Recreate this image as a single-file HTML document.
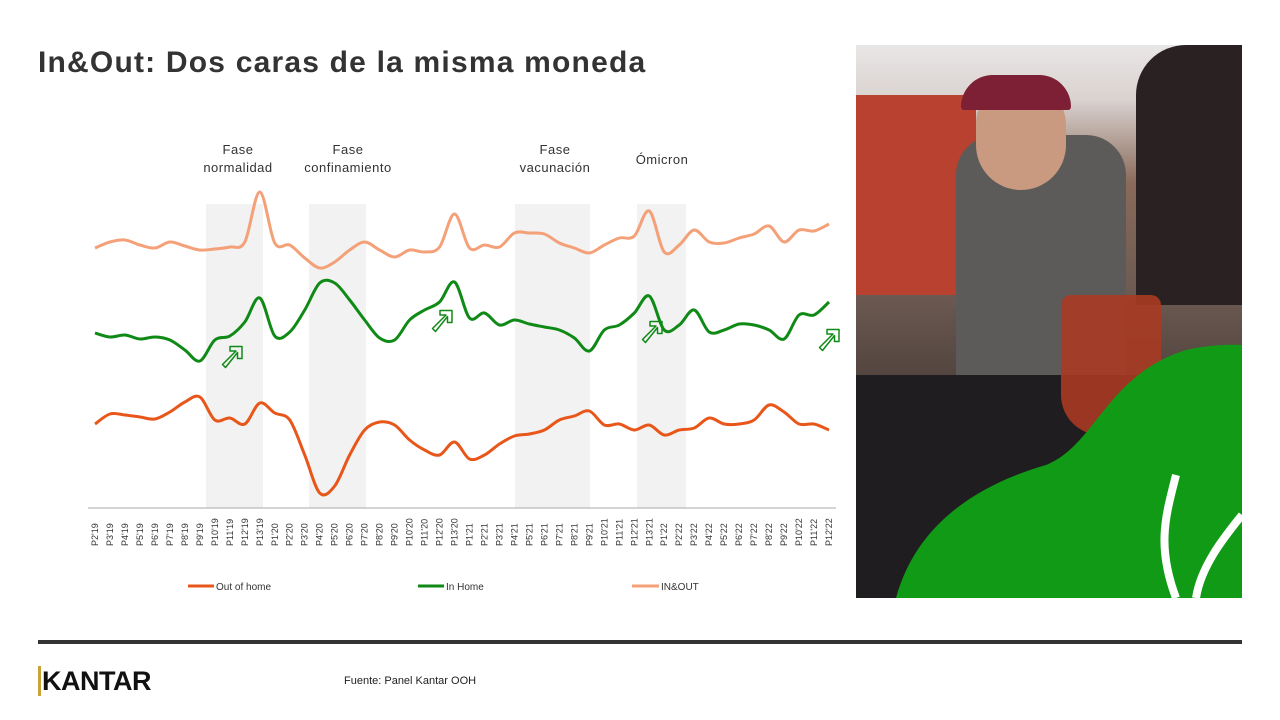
<!DOCTYPE html>
<html><head><meta charset="utf-8">
<style>
body{margin:0;width:1280px;height:720px;background:#fff;overflow:hidden;position:relative;font-family:"Liberation Sans",sans-serif;}
.title{position:absolute;left:38px;top:46px;font-size:30px;font-weight:bold;color:#333;letter-spacing:1.2px}
.photo{position:absolute;left:856px;top:45px;width:386px;height:553px;overflow:hidden;
background:linear-gradient(180deg,#e9e6e6 0%,#d9d2cf 10%,#8a6a5a 25%,#6c5a52 45%,#4a3d38 65%,#2e2a2a 100%);}
.rule{position:absolute;left:38px;top:640px;width:1204px;height:4px;background:#333}
.kantar{position:absolute;left:38px;top:666px;font-size:27px;font-weight:bold;color:#111;letter-spacing:-0.5px}
.src{position:absolute;left:344px;top:675px;font-size:11px;color:#222}
</style></head><body>
<div class="title">In&amp;Out: Dos caras de la misma moneda</div>
<svg width="850" height="620" style="position:absolute;left:0;top:0" id="c">
<g fill="#f2f2f2">
<rect x="206" y="204" width="57" height="304"/>
<rect x="309" y="204" width="57" height="304"/>
<rect x="515" y="204" width="75" height="304"/>
<rect x="637" y="204" width="49" height="304"/>
</g>
<line x1="88" y1="508" x2="836" y2="508" stroke="#aaa" stroke-width="1"/>
<g font-family="Liberation Sans,sans-serif" font-size="13" fill="#333" text-anchor="middle" letter-spacing="0.5">
<text x="238" y="154">Fase</text><text x="238" y="172">normalidad</text>
<text x="348" y="154">Fase</text><text x="348" y="172">confinamiento</text>
<text x="555" y="154">Fase</text><text x="555" y="172">vacunación</text>
<text x="662" y="164">Ómicron</text>
</g>
<g id="ticks" font-family="Liberation Sans,sans-serif" font-size="9" fill="#333"></g>
<path id="p1" fill="none" stroke="#F4A078" stroke-width="3"/>
<path id="p2" fill="none" stroke="#108A16" stroke-width="3"/>
<path id="p3" fill="none" stroke="#E8561A" stroke-width="3"/>
<g fill="none" stroke="#108A16" stroke-width="1" stroke-linejoin="round">
<path id="ar" d=""/>
</g>
<g font-family="Liberation Sans,sans-serif" font-size="10" fill="#333">
<line x1="188" y1="586" x2="214" y2="586" stroke="#E8561A" stroke-width="3"/><text x="216" y="590">Out of home</text>
<line x1="418" y1="586" x2="444" y2="586" stroke="#108A16" stroke-width="3"/><text x="446" y="590">In Home</text>
<line x1="632" y1="586" x2="659" y2="586" stroke="#F4A078" stroke-width="3"/><text x="661" y="590">IN&amp;OUT</text>
</g>
</svg>
<div class="photo">
<div style="position:absolute;left:0;top:50px;width:120px;height:200px;background:#b8412f"></div>
<div style="position:absolute;left:100px;top:90px;width:170px;height:240px;background:#5d5a5a;border-radius:40px 40px 0 0"></div>
<div style="position:absolute;left:120px;top:35px;width:90px;height:110px;background:#c99a80;border-radius:45px"></div>
<div style="position:absolute;left:105px;top:30px;width:110px;height:35px;background:#7d1f35;border-radius:50px 50px 5px 5px"></div>
<div style="position:absolute;left:280px;top:0;width:106px;height:260px;background:#2a2222;border-radius:50px 0 0 0"></div>
<div style="position:absolute;left:0;top:330px;width:386px;height:223px;background:#1f1d1f"></div>
<div style="position:absolute;left:205px;top:250px;width:100px;height:140px;background:#a83a22;border-radius:10px 10px 40px 40px;opacity:.9"></div>
<svg width="386" height="553" style="position:absolute;left:0;top:0">
<path d="M40,553 C60,480 120,440 190,420 C240,400 250,330 330,305 C360,298 386,300 386,300 L386,553 Z" fill="#109A16"/>
<path d="M320,553 C300,500 310,470 320,430 M340,553 C345,520 370,490 386,470" stroke="#fff" stroke-width="8" fill="none"/>
</svg>
</div>
<div class="rule"></div>
<div class="kantar"><span style="border-left:3px solid #c9a23a;margin-right:1px"></span>KANTAR</div>
<div class="src">Fuente: Panel Kantar OOH</div>
<script>
var A=[248,242,240,245,248,242,246,250,249,247,242,192,243,245,258,268,262,250,242,250,257,250,252,247,214,248,245,247,233,233,234,243,248,253,245,238,236,211,252,245,230,242,243,238,234,226,242,230,231,224];
var B=[333,337,335,339,337,340,350,361,340,336,322,298,336,332,310,283,283,300,320,338,340,320,310,302,282,318,313,325,320,324,327,330,338,351,330,325,313,296,330,325,310,332,330,324,325,330,339,315,315,302];
var C=[424,414,415,417,419,412,402,397,420,418,424,403,413,420,455,493,486,455,430,422,425,440,450,455,442,459,455,444,436,434,430,420,416,411,425,424,430,425,435,430,428,418,424,424,420,405,412,424,424,430];
function X(i){return 95+i*14.98;}
function path(v){var p=v.map(function(y,i){return [X(i),y]});var d="M"+p[0][0]+","+p[0][1];
for(var i=0;i<p.length-1;i++){var p0=p[i-1]||p[i],p1=p[i],p2=p[i+1],p3=p[i+2]||p2;
d+=" C"+(p1[0]+(p2[0]-p0[0])/6)+","+(p1[1]+(p2[1]-p0[1])/6)+" "+(p2[0]-(p3[0]-p1[0])/6)+","+(p2[1]-(p3[1]-p1[1])/6)+" "+p2[0]+","+p2[1];}
return d;}
document.getElementById('p1').setAttribute('d',path(A));
document.getElementById('p2').setAttribute('d',path(B));
document.getElementById('p3').setAttribute('d',path(C));
var L=[];for(var i=2;i<=13;i++)L.push("P"+i+"'19");for(var i=1;i<=13;i++)L.push("P"+i+"'20");for(var i=1;i<=13;i++)L.push("P"+i+"'21");for(var i=1;i<=12;i++)L.push("P"+i+"'22");
var g=document.getElementById('ticks'),s="";
L.forEach(function(t,i){var x=X(i)+3;s+='<text transform="translate('+x+',546) rotate(-90)">'+t+'</text>';});
g.innerHTML=s;
var ar=document.getElementById('ar');var par=ar.parentNode;
var arrowD="M-5,5 L4,-4 L0,-4 L0,-7 L8,-7 L8,1 L5,1 L5,-3 L-3,7 Z";
ar.setAttribute('d',arrowD);
[[230,357],[440,321],[650,332],[827,340]].forEach(function(q,k){var e=k==0?ar:ar.cloneNode();e.setAttribute('transform','translate('+q[0]+','+q[1]+') scale(1.5)');if(k)par.appendChild(e);});
</script>
</body></html>
